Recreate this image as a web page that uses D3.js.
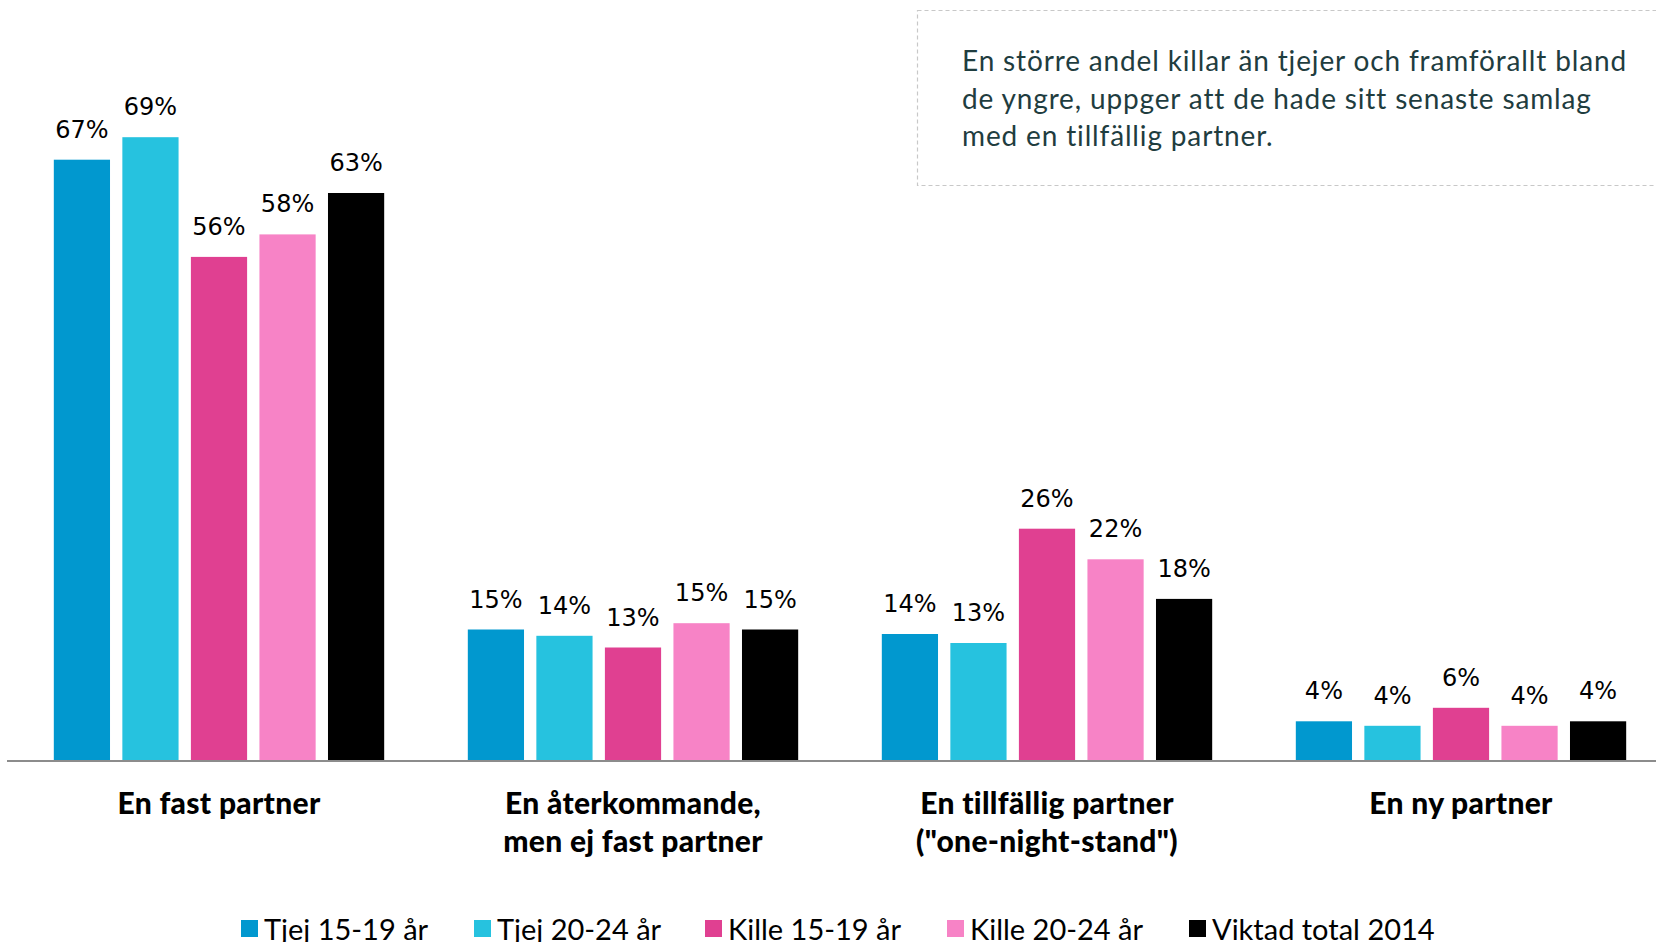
<!DOCTYPE html>
<html>
<head>
<meta charset="utf-8">
<script src="https://cdn.jsdelivr.net/npm/d3@7"></script>
<style>
  body { margin: 0; background: #fff; }
  svg { display: block; }
</style>
</head>
<body>
<div id="chart"></div>
<script>
// Data (percent)
const categories = [
  ["En fast partner"],
  ["En återkommande,", "men ej fast partner"],
  ["En tillfällig partner", "(\"one-night-stand\")"],
  ["En ny partner"]
];
const seriesNames = ["Tjej 15-19 år", "Tjej 20-24 år", "Kille 15-19 år", "Kille 20-24 år", "Viktad total 2014"];
const tjej1519  = [66.7, 14.5, 14.0, 4.3];
const tjej2024  = [69.2, 13.8, 13.0, 3.8];
const kille1519 = [55.9, 12.5, 25.7, 5.8];
const kille2024 = [58.4, 15.2, 22.3, 3.8];
const viktad    = [63.0, 14.5, 17.9, 4.3];
const seriesValues = [tjej1519, tjej2024, kille1519, kille2024, viktad];
const colors = ["#0198cf", "#26c2df", "#e04091", "#f783c6", "#000000"];
const note = [
  "En större andel killar än tjejer och framförallt bland",
  "de yngre, uppger att de hade sitt senaste samlag",
  "med en tillfällig partner."
];

var width = 1656, height = 942;
var baseY = 760;

var svg = d3.select("#chart").append("svg")
  .attr("width", width)
  .attr("height", height);

// Scales
var x0 = d3.scaleBand()
  .domain(d3.range(categories.length))
  .range([12, 1668]);

var x1 = d3.scaleBand()
  .domain(d3.range(seriesNames.length))
  .range([0, x0.bandwidth()])
  .paddingInner(0.18)
  .paddingOuter(0.61);

var y = d3.scaleLinear()
  .domain([0, 70])
  .range([baseY, 130]);

// Bars + value labels
var groups = svg.selectAll(".grp")
  .data(categories)
  .enter().append("g")
  .attr("class", "grp")
  .attr("transform", (d, i) => "translate(" + x0(i) + ",0)");

groups.each(function (c, ci) {
  var g = d3.select(this);
  var vals = seriesValues.map(s => s[ci]);
  g.selectAll("rect")
    .data(vals)
    .enter().append("rect")
    .attr("x", (d, si) => x1(si))
    .attr("y", d => y(d))
    .attr("width", x1.bandwidth())
    .attr("height", d => baseY - y(d))
    .attr("fill", (d, si) => colors[si]);
  g.selectAll("text.val")
    .data(vals)
    .enter().append("text")
    .attr("class", "val")
    .attr("x", (d, si) => x1(si) + x1.bandwidth() / 2)
    .attr("y", d => y(d) - 22)
    .attr("text-anchor", "middle")
    .style("font-family", "'DejaVu Sans', sans-serif")
    .style("font-size", "24px")
    .attr("fill", "#000")
    .text(d => Math.round(d) + "%");
});

// Baseline
svg.append("line")
  .attr("x1", 7).attr("x2", width)
  .attr("y1", baseY + 1).attr("y2", baseY + 1)
  .attr("stroke", "#8c8c8c")
  .attr("stroke-width", 2);

// Category labels
var catLabels = svg.selectAll(".cat")
  .data(categories)
  .enter().append("text")
  .attr("class", "cat")
  .attr("text-anchor", "middle")
  .style("font-family", "Lato, 'Open Sans', sans-serif")
  .style("font-weight", "900")
  .style("font-size", "30px")
  .style("letter-spacing", "0.3px")
  .attr("fill", "#000");
catLabels.each(function (lines, i) {
  d3.select(this).selectAll("tspan")
    .data(lines)
    .enter().append("tspan")
    .attr("x", x0(i) + x0.bandwidth() / 2)
    .attr("y", (d, li) => 814 + li * 38)
    .text(d => d);
});

// Legend
var legendX = [241, 474, 705, 947, 1189];
var legend = svg.selectAll(".legend")
  .data(seriesNames)
  .enter().append("g")
  .attr("class", "legend")
  .attr("transform", (d, i) => "translate(" + legendX[i] + ",0)");
legend.append("rect")
  .attr("x", 0).attr("y", 920)
  .attr("width", 17).attr("height", 17)
  .attr("fill", (d, i) => colors[i]);
legend.append("text")
  .attr("x", 23).attr("y", 940)
  .style("font-family", "Lato, 'Open Sans', sans-serif")
  .style("font-size", "29px")
  .attr("fill", "#000")
  .text(d => d);

// Annotation box
svg.append("rect")
  .attr("x", 917.5).attr("y", 10.5)
  .attr("width", 760).attr("height", 175)
  .attr("fill", "none")
  .attr("stroke", "#c8c8c8")
  .attr("stroke-width", 1.2)
  .attr("stroke-dasharray", "4,3");

svg.append("text")
  .style("font-family", "Lato, 'Open Sans', sans-serif")
  .style("font-size", "28px")
  .style("letter-spacing", "0.85px")
  .attr("fill", "#1f3d3f")
  .selectAll("tspan")
  .data(note)
  .enter().append("tspan")
  .attr("x", 962)
  .attr("y", (d, i) => 71 + i * 37.5)
  .text(d => d);
</script>
</body>
</html>
